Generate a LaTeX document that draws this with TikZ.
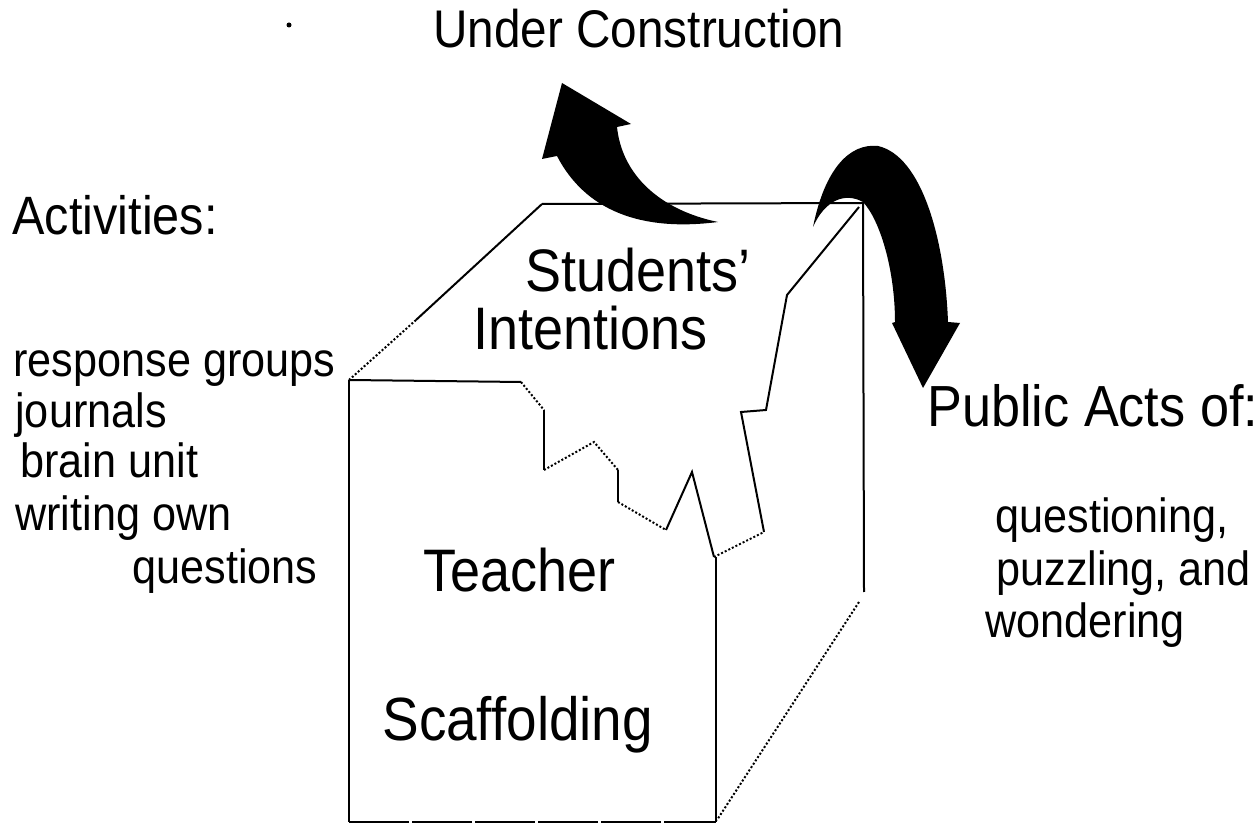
\documentclass[tikz,border=0pt]{standalone}
\usepackage{fontspec}
\setmainfont{Liberation Sans}[FakeStretch=0.9]
\usepackage{xcolor}

\begin{document}
\begin{tikzpicture}[x=0.5pt,y=0.5pt,yscale=-1,xscale=1]
		\useasboundingbox (0,0) rectangle (1258,833);
		% curved arrows
		\fill [black] (562,83) -- (631,124) -- (617,127) .. controls (622,175) and (660,210) .. (718,222) .. controls (640,232) and (585,210) .. (557,156) -- (542,159) -- cycle ;
		\fill [black] (813,227) .. controls (825,168) and (850,143) .. (878,146) .. controls (922,156) and (945,240) .. (948,322) -- (960,323) -- (923,388) -- (892,323) -- (895,322) .. controls (895,270) and (880,220) .. (863,202) .. controls (845,192) and (825,200) .. (813,227) -- cycle ;
		% box, back edges
		\draw [line width=1pt]  (542,204) -- (863,203) -- (864,592) ;
		\draw [line width=1pt]  (542,204) -- (416,320) ;
		\draw [line width=1pt, densely dotted]  (416,320) -- (349,380) ;
		\draw [line width=1pt, densely dotted]  (859,602) -- (717,820) ;
		% front face
		\draw [line width=1pt]  (349,380) -- (521,382) ;
		\draw [line width=1pt]  (349,380) -- (349,822) ;
		\draw [line width=1pt, dash pattern={on 30pt off 1.5pt}]  (349,822) -- (716,822) ;
		\draw [line width=1pt]  (716,557) -- (716,822) ;
		% broken edge of the top
		\draw [line width=1pt, densely dotted]  (521,382) -- (544,410) ;
		\draw [line width=1pt]  (544,410) -- (544,470) ;
		\draw [line width=1pt, densely dotted]  (544,470) -- (594,442) -- (618,470) ;
		\draw [line width=1pt]  (618,470) -- (618,502) ;
		\draw [line width=1pt, densely dotted]  (618,502) -- (666,530) ;
		\draw [line width=1pt]  (666,530) -- (692,472) -- (714,557) ;
		\draw [line width=1pt, densely dotted]  (714,557) -- (764,532) ;
		\draw [line width=1pt]  (764,532) -- (741,412) -- (766,410) -- (787,295) -- (859,207) ;
		\fill (289,25) circle (2.5) ;
		% labels
		\draw (433,48) node [anchor=base west][inner sep=0pt, font=\fontsize{26.5}{30}\selectfont] (under) {Under Construction};
		\draw (12,235) node [anchor=base west][inner sep=0pt, font=\fontsize{27}{30}\selectfont] (acts) {Activities:};
		\draw (13,377) node [anchor=base west][inner sep=0pt, font=\fontsize{24}{26}\selectfont] (resp) {response groups};
		\draw (15,428) node [anchor=base west][inner sep=0pt, font=\fontsize{24}{26}\selectfont] (jour) {journals};
		\draw (20,478) node [anchor=base west][inner sep=0pt, font=\fontsize{24}{26}\selectfont] (brain) {brain unit};
		\draw (15,531) node [anchor=base west][inner sep=0pt, font=\fontsize{24}{26}\selectfont] (writ) {writing own};
		\draw (318,583) node [anchor=base east][inner sep=0pt, font=\fontsize{24}{26}\selectfont] (ques) {questions};
		\draw (525,292) node [anchor=base west][inner sep=0pt, font=\fontsize{30}{34}\selectfont] (stud) {Students'};
		\draw (473,350) node [anchor=base west][inner sep=0pt, font=\fontsize{30}{34}\selectfont] (inten) {Intentions};
		\draw (423,592) node [anchor=base west][inner sep=0pt, font=\fontsize{30}{34}\selectfont] (teach) {Teacher};
		\draw (382,740) node [anchor=base west][inner sep=0pt, font=\fontsize{30.5}{34}\selectfont] (scaf) {Scaffolding};
		\draw (927,427) node [anchor=base west][inner sep=0pt, font=\fontsize{29}{30}\selectfont] (pub) {Public Acts of:};
		\draw (995,533) node [anchor=base west][inner sep=0pt, font=\fontsize{24}{26}\selectfont] (qing) {questioning,};
		\draw (996,586) node [anchor=base west][inner sep=0pt, font=\fontsize{24}{26}\selectfont] (puzz) {puzzling, and};
		\draw (985,638) node [anchor=base west][inner sep=0pt, font=\fontsize{24}{26}\selectfont] (wond) {wondering};
		\end{tikzpicture}
\end{document}
